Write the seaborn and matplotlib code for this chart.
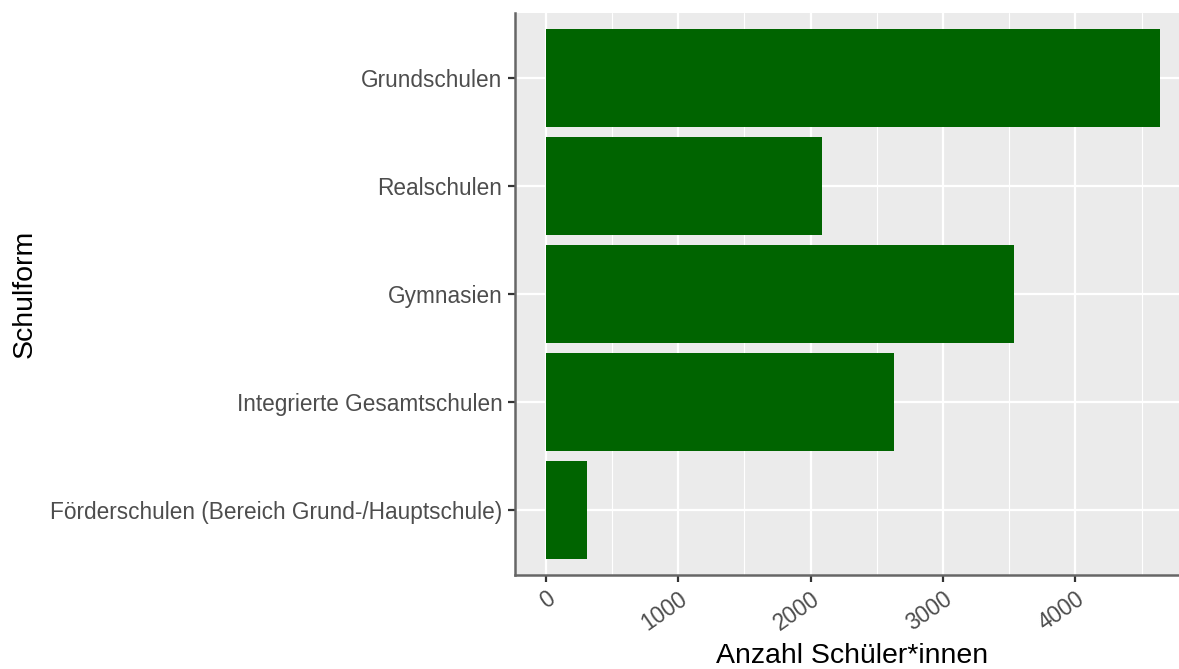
import pandas as pd
import matplotlib
matplotlib.use("Agg")
import matplotlib.pyplot as plt
import seaborn as sns
from matplotlib.ticker import MultipleLocator

# ggplot-like look
sns.set_theme(style="darkgrid", rc={
    "axes.facecolor": "#EBEBEB",
    "grid.color": "white",
})
plt.rcParams['font.family'] = ['Liberation Sans', 'DejaVu Sans']

# Data
schulformen = [
    "Grundschulen",
    "Realschulen",
    "Gymnasien",
    "Integrierte Gesamtschulen",
    "Förderschulen (Bereich Grund-/Hauptschule)",
]
anzahl = [4641, 2090, 3540, 2628, 315]

df = pd.DataFrame({"Schulform": schulformen, "Anzahl": anzahl})

fig = plt.figure(figsize=(11.79, 6.69), dpi=100)
ax = fig.add_axes([0.4368, 0.1408, 0.5632, 0.8395])

sns.barplot(data=df, x="Anzahl", y="Schulform", order=schulformen,
            color="#006400", saturation=1, width=0.9, linewidth=0, ax=ax)

ax.set_xlim(-232, 4783)
ax.set_ylim(4.6, -0.6)
ax.xaxis.set_major_locator(MultipleLocator(1000))
ax.xaxis.set_minor_locator(MultipleLocator(500))
ax.grid(which="major", color="white", linewidth=1.6)
ax.grid(which="minor", axis="x", color="white", linewidth=0.8)
ax.set_axisbelow(True)

for side in ["top", "right"]:
    ax.spines[side].set_visible(False)
for side in ["left", "bottom"]:
    ax.spines[side].set_visible(True)
    ax.spines[side].set_color("#666666")
    ax.spines[side].set_linewidth(1.8)

ax.tick_params(axis="both", which="major", length=5, width=1.6,
               color="#333333", labelcolor="#4D4D4D", labelsize=16.3, pad=4)
ax.tick_params(axis="both", which="minor", length=0)
ax.tick_params(axis="both", which="both", bottom=True, left=True)

plt.setp(ax.get_xticklabels(), rotation=35, ha="right", rotation_mode="anchor")

ax.set_xlabel("Anzahl Schüler*innen", fontsize=20.5, color="black")
ax.set_ylabel("Schulform", fontsize=20.5, color="black")
ax.xaxis.set_label_coords(0.508, -0.122)
ax.yaxis.set_label_coords(-0.7195, 0.5)

fig.savefig("out.png", dpi=100)
